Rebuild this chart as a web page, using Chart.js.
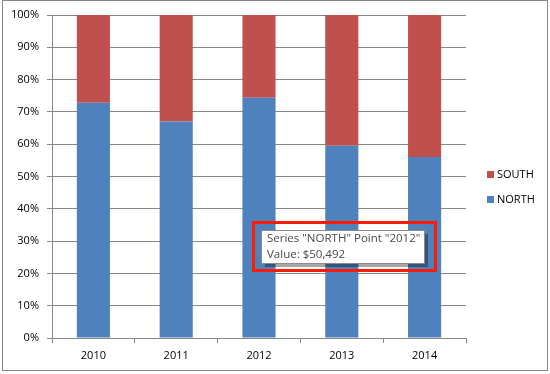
<!DOCTYPE html>
<html>
<head>
<meta charset="utf-8">
<script src="https://cdn.jsdelivr.net/npm/chart.js@4.4.0/dist/chart.umd.min.js"></script>
<style>
  html, body { margin: 0; padding: 0; background: #fff; }
  #wrap { width: 550px; height: 374px; }
</style>
</head>
<body>
<div id="wrap"><canvas id="myChart" width="550" height="374"></canvas></div>
<script>
// values (share of each year's total, %)
var years = ["2010", "2011", "2012", "2013", "2014"];
var north = [72.8, 67.0, 74.4, 59.5, 56.0];
var south = [27.2, 33.0, 25.6, 40.5, 44.0];
var yTicks = [0, 10, 20, 30, 40, 50, 60, 70, 80, 90, 100];
var tipLines = ['Series "NORTH" Point "2012"', 'Value: $50,492'];

var FONT = "'Open Sans', 'DejaVu Sans', sans-serif";
var GRID = '#878787';

// outer frame, legend and the callout box
var extras = {
  id: 'extras',
  afterDraw: function (chart) {
    var c = chart.ctx;
    c.save();
    // frame
    c.strokeStyle = '#868686';
    c.lineWidth = 1;
    c.strokeRect(2.5, 0.5, 545, 370);

    // legend (SOUTH on top)
    c.font = '11px ' + FONT;
    c.textBaseline = 'middle';
    c.fillStyle = '#000';
    var sets = chart.data.datasets.slice().reverse();
    sets.forEach(function (ds, i) {
      var y = 174 + i * 25;
      c.fillStyle = ds.backgroundColor;
      c.fillRect(487, y - 3, 7, 7);
      c.fillStyle = '#000';
      c.fillText(ds.label, 497, y + 1);
    });

    // tooltip-like callout
    c.fillStyle = 'rgba(0,0,0,0.35)';
    c.fillRect(265, 234, 163, 33);
    c.fillStyle = '#fff';
    c.fillRect(261.5, 230.5, 163, 33);
    c.strokeStyle = '#8c8c8c';
    c.strokeRect(261.5, 230.5, 163, 33);
    c.fillStyle = '#4a4a4a';
    c.font = '11.5px ' + FONT;
    c.fillText(tipLines[0], 267, 239);
    c.fillText(tipLines[1], 267, 255);

    c.strokeStyle = '#ff1a00';
    c.lineWidth = 3;
    c.strokeRect(253.5, 222.5, 182, 48);
    c.restore();
  }
};

var ctx = document.getElementById("myChart");
var myChart = new Chart(ctx, {
  type: 'bar',
  data: {
    labels: years,
    datasets: [{
      label: 'NORTH',
      data: north,
      backgroundColor: '#4F81BD',
      barPercentage: 1,
      categoryPercentage: 0.4
    }, {
      label: 'SOUTH',
      data: south,
      backgroundColor: '#C0504D',
      barPercentage: 1,
      categoryPercentage: 0.4
    }]
  },
  options: {
    responsive: false,
    animation: false,
    layout: { padding: { top: 15, right: 84, bottom: 0, left: 0 } },
    plugins: {
      legend: { display: false },
      tooltip: { enabled: false }
    },
    scales: {
      x: {
        stacked: true,
        afterFit: function (s) { s.height = 36; },
        grid: { drawOnChartArea: false, drawTicks: true, tickLength: 5, color: GRID, offset: true },
        border: { color: GRID },
        ticks: { color: '#000', padding: 6, font: { family: FONT, size: 11 } }
      },
      y: {
        stacked: true,
        min: 0,
        max: 100,
        afterFit: function (s) { s.width = 52; },
        afterBuildTicks: function (s) { s.ticks = yTicks.map(function (v) { return { value: v }; }); },
        grid: { color: GRID, tickLength: 5 },
        border: { color: GRID },
        ticks: {
          color: '#000',
          padding: 8,
          font: { family: FONT, size: 11 },
          callback: function (v) { return v + '%'; }
        }
      }
    }
  },
  plugins: [extras]
});
</script>
</body>
</html>
